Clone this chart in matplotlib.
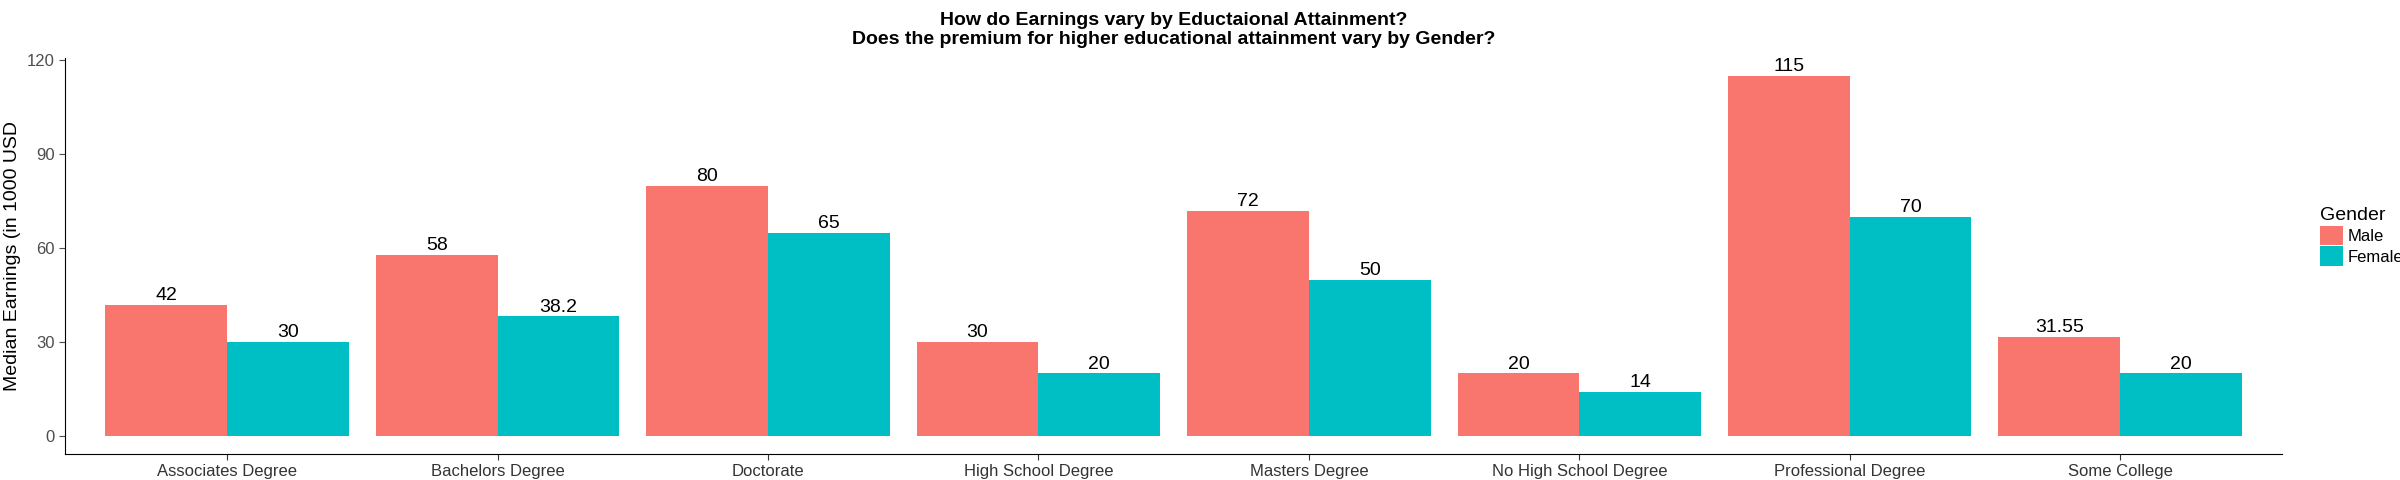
import numpy as np
import matplotlib.pyplot as plt

categories = ["Associates Degree", "Bachelors Degree", "Doctorate", "High School Degree",
              "Masters Degree", "No High School Degree", "Professional Degree", "Some College"]
male = [42, 58, 80, 30, 72, 20, 115, 31.55]
female = [30, 38.2, 65, 20, 50, 14, 70, 20]
male_labels = ["42", "58", "80", "30", "72", "20", "115", "31.55"]
female_labels = ["30", "38.2", "65", "20", "50", "14", "70", "20"]

plt.rcParams['font.family'] = ['Liberation Sans', 'DejaVu Sans']
fig = plt.figure(figsize=(24, 4.8), dpi=100)
ax = fig.add_axes([0.027, 0.054, 0.924, 0.825])

x = np.arange(len(categories))
w = 0.45
b1 = ax.bar(x - w / 2, male, w, color="#F8766D", label="Male")
b2 = ax.bar(x + w / 2, female, w, color="#00BFC4", label="Female")
for bars, labs in ((b1, male_labels), (b2, female_labels)):
    for b, t in zip(bars, labs):
        ax.text(b.get_x() + b.get_width() / 2, b.get_height() + 0.3, t,
                ha="center", va="bottom", fontsize=14)

ax.set_xlim(-0.6, len(categories) - 0.4)
ax.set_ylim(-5.75, 120.75)
ax.set_yticks([0, 30, 60, 90, 120])
ax.set_xticks(x)
ax.set_xticklabels(categories)
ax.tick_params(labelsize=12, colors="#4d4d4d", length=4)
ax.tick_params(axis="x", colors="#333333")
for s in ("top", "right"):
    ax.spines[s].set_visible(False)
ax.set_ylabel("Median Earnings (in 1000 USD", fontsize=14)
ax.set_title("How do Earnings vary by Eductaional Attainment?\n"
             "Does the premium for higher educational attainment vary by Gender?",
             fontsize=14, fontweight="bold", pad=10)
leg = ax.legend(title="Gender", loc="center left", bbox_to_anchor=(1.01, 0.55),
                frameon=False, fontsize=12, title_fontsize=14,
                handlelength=1.4, handleheight=1.4, handletextpad=0.3, labelspacing=0.1)
leg._legend_box.align = "left"
fig.savefig("out.png")
